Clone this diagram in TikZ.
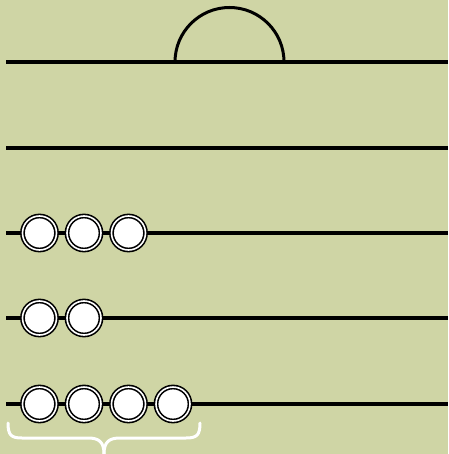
\documentclass[tikz,border=0pt]{standalone}
\definecolor{bg}{RGB}{207,213,165}
\tikzset{
  rod/.style={line width=4pt, black},
  bead/.style={circle, inner sep=0pt, minimum size=34pt, draw=black, line width=1.6pt, double=white, double distance=1.6pt, fill=white},
  dome/.style={line width=3pt, black},
  bracket/.style={line width=3pt, white, line cap=round, line join=round}
}
\begin{document}
\begin{tikzpicture}[x=1pt,y=-1pt]
\fill[bg] (0,0) rectangle (448,454);
\useasboundingbox (0,0) rectangle (448,454);
% rods
\foreach \yy/\nm in {62/r1,148/r2,233/r3,318/r4,404/r5} {
  \coordinate (\nm a) at (6,\yy);
  \coordinate (\nm b) at (448,\yy);
  \draw[rod] (\nm a) -- (\nm b);
}
% dome
\draw[dome] (175,62) arc[start angle=180, end angle=360, radius=54.5];
% beads
\foreach \k in {0,1,2} \node[bead] (b3\k) at ({39.5+44.5*\k},233) {};
\foreach \k in {0,1} \node[bead] (b4\k) at ({39.5+44.5*\k},318) {};
\foreach \k in {0,1,2,3} \node[bead] (b5\k) at ({39.5+44.5*\k},404) {};
% brace
\draw[bracket] (8,423) .. controls (8,435) and (11,438) .. (22,438) -- (88,438)
  .. controls (99,438) and (104,442) .. (104,454);
\draw[bracket] (200,423) .. controls (200,435) and (197,438) .. (186,438) -- (120,438)
  .. controls (109,438) and (104,442) .. (104,454);
\end{tikzpicture}
\end{document}
